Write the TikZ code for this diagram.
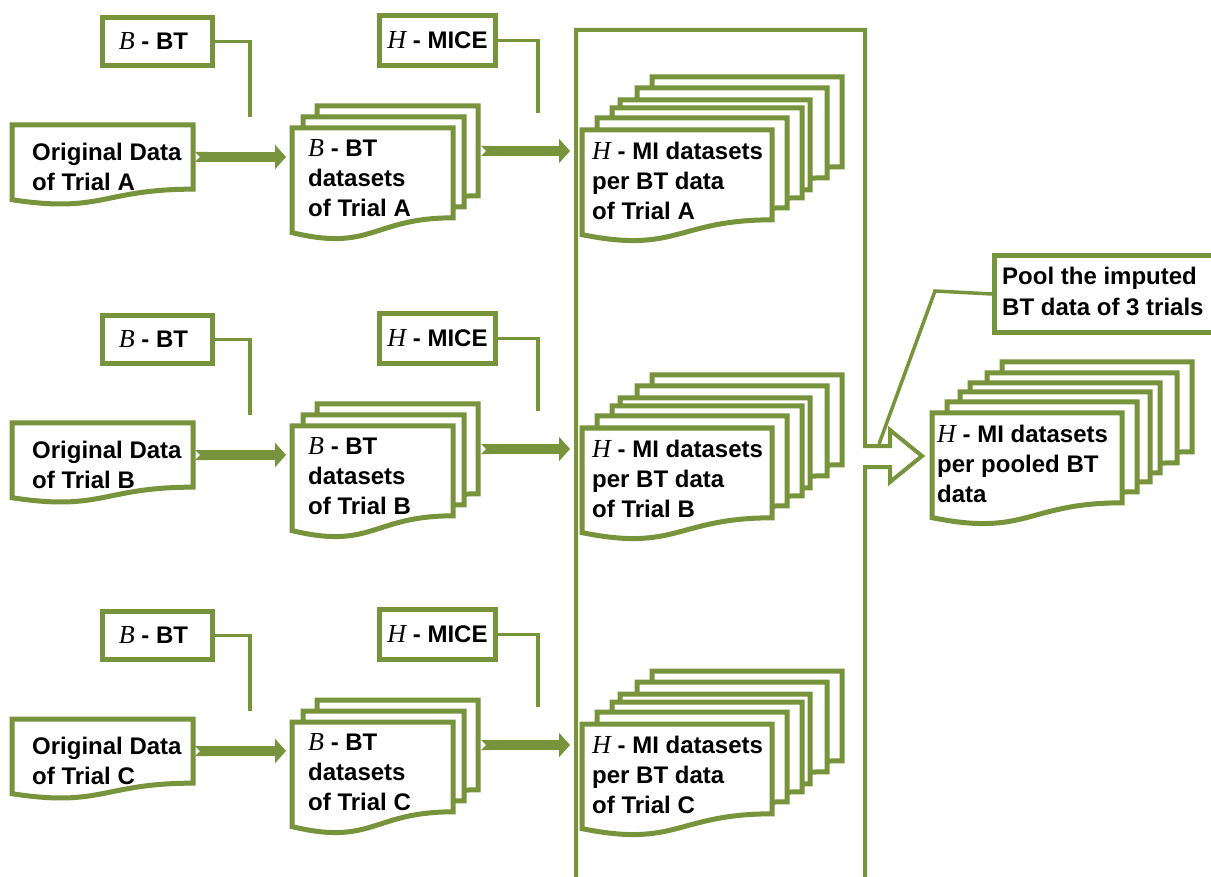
\documentclass[tikz,border=0pt]{standalone}
\usepackage{fontspec}
\setmainfont{Liberation Sans}
\newfontfamily\varfont{Liberation Serif}
\usetikzlibrary{arrows.meta}
\definecolor{olive}{RGB}{119,147,60}
% italic variable letters
\newcommand{\vB}{{\varfont\itshape\mdseries\fontsize{26}{30}\selectfont B}}
\newcommand{\vH}{{\varfont\itshape\mdseries\fontsize{26}{30}\selectfont H}}
% flowchart "document" outline: x, y (top-left), width, height
\newcommand{\docshape}[4]{%
  \pgfmathsetmacro\dsxr{#1+#3}%
  \pgfmathsetmacro\dsyr{#2+0.802*#4}%
  \pgfmathsetmacro\dsxm{#1+0.5*#3}%
  \pgfmathsetmacro\dsyl{#2+1.1075*#4}%
  \pgfmathsetmacro\dsyb{#2+0.934*#4}%
  \pgfmathsetmacro\dsyt{#2}%
  \draw[doc] (#1,\dsyt) -- (\dsxr,\dsyt) -- (\dsxr,\dsyr)
    .. controls (\dsxm,\dsyr) and (\dsxm,\dsyl) .. (#1,\dsyb) -- cycle;}
\tikzset{
  doc/.style={draw=olive, line width=5pt, fill=white, line join=miter},
  labelbox/.style={draw=olive, line width=5pt, fill=white, inner sep=0pt,
    text=black, align=center, font=\fontsize{24}{30}\selectfont\bfseries},
  conn/.style={draw=olive, line width=3.5pt},
  frameline/.style={draw=olive, line width=4pt, line join=miter},
  blockarrow/.style={draw=olive, line width=10pt,
    {Triangle Cap[reversed,length=5pt]}-{Triangle[length=11pt,width=24pt]}},
  txt/.style={inner sep=0pt, anchor=north west, align=left, text=black,
    font=\fontsize{24}{30}\selectfont\bfseries},
  spot/.style={inner sep=0pt, outer sep=0pt, anchor=north west},
}
\begin{document}
\begin{tikzpicture}[x=1pt,y=-1pt]
\fill[white] (0,0) rectangle (1211,877);
\useasboundingbox (0,0) rectangle (1211,877);

% frame around the imputed sets, with the hollow outlet arrow
\draw[frameline] (576,890) -- (576,30) -- (865,30) -- (865,446) -- (890,446)
  -- (890,430) -- (922,456) -- (890,482) -- (890,467) -- (865,467) -- (865,890);
\node[spot, minimum width=289pt, minimum height=860pt] (frame) at (576,30) {};

\foreach \r/\oy in {A/0,B/298,C/594}{
  % bootstrap step
  \node[labelbox, anchor=north west, minimum width=110pt, minimum height=48pt]
    (bbtbox\r) at (100,{15+\oy}) {\vB{} - BT\hspace*{8pt}};
  \coordinate (bbtend\r) at (250,{117+\oy});
  \draw[conn] (bbtbox\r.east) -| (bbtend\r);

  % original data
  \docshape{12}{125+\oy}{181}{80}
  \node[spot, minimum width=181pt, minimum height=64pt] (orig\r) at (12,{125+\oy}) {};
  \node[txt] at (32,{143+\oy}) {Original Data\\of Trial \r};

  % bootstrap datasets
  \foreach \dx/\dy in {25/22,11/11,0/0}{\docshape{292+\dx}{128+\oy-\dy}{161}{112}}
  \node[spot, minimum width=161pt, minimum height=90pt] (bbtback\r) at (317,{106+\oy}) {};
  \node[spot, minimum width=161pt, minimum height=90pt] (bbt\r) at (292,{128+\oy}) {};
  \node[txt] at (308,{139+\oy}) {\vB{} - BT\\datasets\\of Trial \r};

  % imputation step
  \node[labelbox, anchor=north west, minimum width=116pt, minimum height=50pt]
    (micebox\r) at (377,{13+\oy}) {\vH{} - MICE};
  \coordinate (miceend\r) at (538,{113+\oy});
  \draw[conn] (micebox\r.east) -| (miceend\r);

  % imputed datasets
  \foreach \dx/\dy in {70/53,55/42,38/30,30/22,15/12,0/0}{\docshape{582+\dx}{130+\oy-\dy}{190}{112}}
  \node[spot, minimum width=190pt, minimum height=90pt] (hmi\r) at (582,{130+\oy}) {};
  \node[txt] at (592,{142+\oy}) {\vH{} - MI datasets\\per BT data\\of Trial \r};

  % flow arrows
  \draw[blockarrow, shorten <=2pt, shorten >=6pt] (orig\r.east) -- (orig\r.east -| bbt\r.west);
  \draw[blockarrow, shorten <=3pt, shorten >=6pt] (bbtback\r.east) -- (bbtback\r.east -| frame.west);
}

% pooled result
\foreach \dx/\dy in {70/51,55/40,38/30,28/21,15/11,0/0}{\docshape{932+\dx}{413-\dy}{190}{112}}
\node[spot, minimum width=190pt, minimum height=90pt] (pooled) at (932,413) {};
\node[txt] at (937,425) {\vH{} - MI datasets\\per pooled BT\\data};

% pooling note
\node[labelbox, anchor=north west, minimum width=230pt, minimum height=77pt] (poolbox) at (992,253) {};
\node[txt, font=\fontsize{24}{31}\selectfont\bfseries] (pooltxt) at (1002,267) {Pool the imputed\\BT data of 3 trials};
\coordinate (poolbend) at (935,291);
\coordinate (pooltip) at (879,444);
\draw[conn] (poolbox.west) -- (poolbend) -- (pooltip);
\end{tikzpicture}
\end{document}
